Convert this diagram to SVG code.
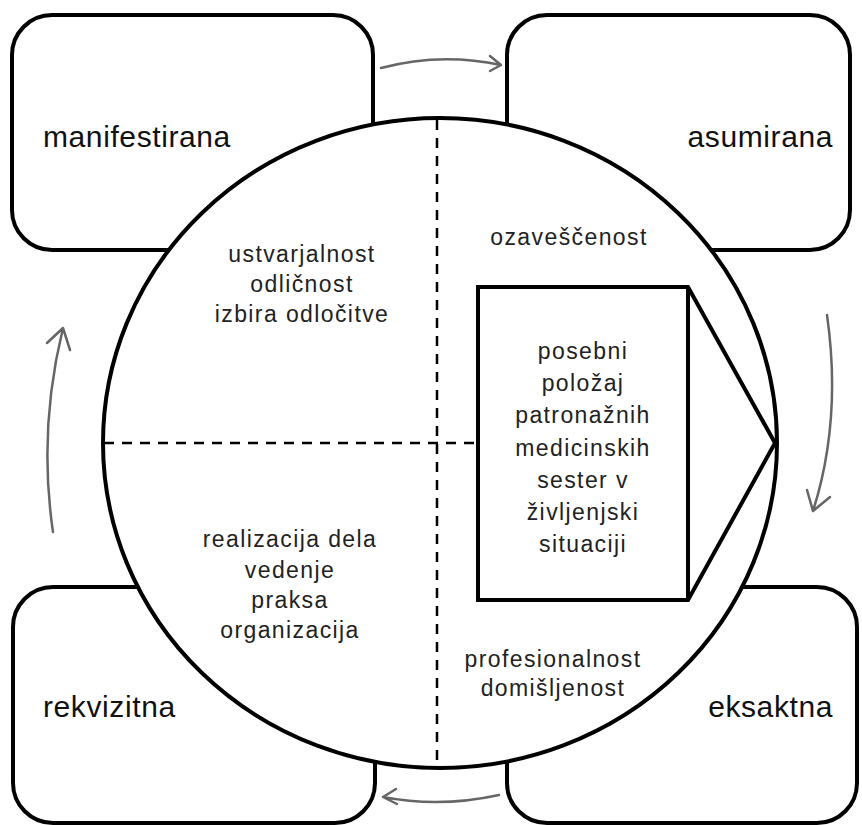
<svg xmlns="http://www.w3.org/2000/svg" width="862" height="825" viewBox="0 0 862 825">
<defs>
<style>
.box{fill:#fff;stroke:#000;stroke-width:4}
.ring{fill:#fff;stroke:#000;stroke-width:4}
.dash{fill:none;stroke:#000;stroke-width:2.5;stroke-dasharray:10 8}
.lbl{font-family:"Liberation Sans",Arial,sans-serif;font-size:30px;letter-spacing:0.6px;fill:#111}
.txt{font-family:"Liberation Sans",Arial,sans-serif;font-size:23px;letter-spacing:1.4px;fill:#222;text-anchor:middle}
.arr{fill:none;stroke:#666;stroke-width:2.5;stroke-linecap:round;stroke-linejoin:round}
</style>
</defs>
<rect width="862" height="825" fill="#fff"/>
<g id="manifestirana">
<rect class="box" x="12" y="15" width="361" height="235" rx="40"/>
<text class="lbl" x="43" y="147">manifestirana</text>
</g>
<g id="asumirana">
<rect class="box" x="507" y="15" width="343" height="235" rx="40"/>
<text class="lbl" x="833" y="147" text-anchor="end">asumirana</text>
</g>
<g id="rekvizitna">
<rect class="box" x="13" y="587" width="362" height="236" rx="40"/>
<text class="lbl" x="43" y="717">rekvizitna</text>
</g>
<g id="eksaktna">
<rect class="box" x="507" y="587" width="350" height="236" rx="40"/>
<text class="lbl" x="833" y="717" text-anchor="end">eksaktna</text>
</g>
<g id="circle">
<ellipse class="ring" cx="440" cy="443" rx="337" ry="325"/>
<line class="dash" x1="437" y1="120" x2="437" y2="766"/>
<line class="dash" x1="104" y1="443" x2="478" y2="443"/>
<text class="txt"><tspan x="302" y="262">ustvarjalnost</tspan><tspan x="302" y="292">odličnost</tspan><tspan x="302" y="322">izbira odločitve</tspan></text>
<text class="txt"><tspan x="569" y="245">ozaveščenost</tspan></text>
<text class="txt"><tspan x="290" y="547">realizacija dela</tspan><tspan x="290" y="578">vedenje</tspan><tspan x="290" y="608">praksa</tspan><tspan x="290" y="638">organizacija</tspan></text>
<text class="txt"><tspan x="553" y="667">profesionalnost</tspan><tspan x="553" y="696">domišljenost</tspan></text>
</g>
<g id="posebni">
<polygon points="478,287 688,287 775,443 688,600 478,600" fill="#fff" stroke="#000" stroke-width="4" stroke-linejoin="miter"/>
<line x1="688" y1="287" x2="688" y2="600" stroke="#000" stroke-width="4"/>
<text class="txt"><tspan x="583" y="359">posebni</tspan><tspan x="583" y="391">položaj</tspan><tspan x="583" y="423">patronažnih</tspan><tspan x="583" y="456">medicinskih</tspan><tspan x="583" y="488">sester v</tspan><tspan x="583" y="520">življenjski</tspan><tspan x="583" y="552">situaciji</tspan></text>
</g>
<g id="connectors">
<path class="arr" d="M381,68 Q440,52 501,65 M490,56 L501,65 L490,71"/>
<path class="arr" d="M827,315 Q842,420 813,511 M807,490 L813,511 L830,497"/>
<path class="arr" d="M499,795 Q440,808 383,797 M396,789 L383,797 L397,804"/>
<path class="arr" d="M53,532 Q38,430 63,328 M47,343 L63,328 L70,350"/>
</g>
</svg>
